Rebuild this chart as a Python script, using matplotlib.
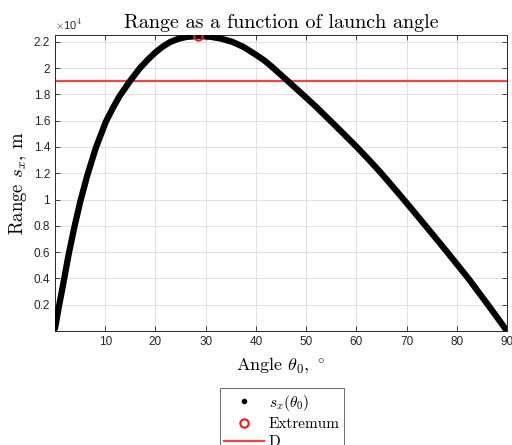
import matplotlib.pyplot as plt
from matplotlib.lines import Line2D

plt.rcParams["mathtext.fontset"] = "cm"

# Дані
theta_deg = [0, 0.8, 1.7, 2.7, 3.8, 5.0, 6.4, 8.1, 10.1, 11.5, 12.9, 14.0, 15.0,
             16.9, 18.5, 20.0, 21.5, 23.0, 24.5, 26.0, 28.5, 31.0, 33.0, 35.3,
             37.5, 40.0, 41.8, 43.5, 46.4, 49.3, 52.0, 54.6, 57.2, 59.9, 62.4,
             64.8, 67.1, 69.4, 73.8, 78.1, 82.3, 86.2, 90]
range_m = [200, 1900, 3700, 5800, 7800, 9800, 11800, 13900, 15900, 16950, 17900,
           18500, 19050, 20000, 20650, 21200, 21650, 22000, 22220, 22360, 22450,
           22380, 22250, 22000, 21620, 21020, 20550, 20000, 19000, 18000, 17050,
           16080, 15100, 14070, 13070, 12070, 11050, 10020, 8000, 6000, 4000,
           2000, 0]
theta_ext = 28.5
range_ext = 22450
D = 19000

yticks = [0.2, 0.4, 0.6, 0.8, 1.0, 1.2, 1.4, 1.6, 1.8, 2.0, 2.2]
xticks = [10, 20, 30, 40, 50, 60, 70, 80, 90]

fig = plt.figure(figsize=(5.12, 4.45), dpi=100)
ax = fig.add_axes([55 / 512, 1 - 331 / 445, 452 / 512, 296 / 445])

ax.plot(theta_deg, [r / 1e4 for r in range_m], color="k", lw=4.5,
        solid_capstyle="round", solid_joinstyle="round", zorder=3)
ax.plot(theta_ext, range_ext / 1e4, "o", mfc="none", mec="#ee1c1c", mew=1.5,
        ms=6, zorder=4)
ax.axhline(D / 1e4, color="#f04545", lw=1.6, zorder=2)

ax.set_xlim(0, 90)
ax.set_ylim(0, 2.252)
ax.set_xticks(xticks)
ax.set_yticks(yticks)
ax.set_xticklabels([str(t) for t in xticks], family="Liberation Sans", fontsize=8.5)
ax.set_yticklabels([f"{t:g}" for t in yticks], family="Liberation Sans", fontsize=8.5)
ax.tick_params(direction="in", top=True, right=True, length=3.5, width=0.6,
               colors="#262626", labelcolor="#262626")
for s in ax.spines.values():
    s.set_color("#262626")
    s.set_linewidth(0.7)
ax.grid(True, color="#dcdcdc", lw=0.6)
ax.set_axisbelow(True)

ax.set_title("Range as a function of launch angle", family="cmr10", fontsize=14.5, pad=5)
ax.set_xlabel(r"Angle $\theta_0$, $^\circ$", family="cmr10", fontsize=13, labelpad=5)
ax.set_ylabel(r"Range $s_x$, m", family="cmr10", fontsize=13.5, labelpad=3)
ax.text(0.0, 1.01, r"$\times$10$^4$", transform=ax.transAxes, fontsize=8,
        family="Liberation Sans", color="#262626", va="bottom", ha="left")

handles = [
    Line2D([], [], ls="none", marker=".", color="k", ms=6),
    Line2D([], [], ls="none", marker="o", mfc="none", mec="#ee1c1c", mew=1.5, ms=6),
    Line2D([], [], color="#f04545", lw=1.6),
]
labels = [r"$s_x(\theta_0)$", "Extremum", "D"]
leg = fig.legend(handles, labels, loc="upper center", bbox_to_anchor=(282 / 512, 1 - 388 / 445),
                 prop={"family": "cmr10", "size": 11}, frameon=True, fancybox=False,
                 edgecolor="#262626", handlelength=2.6, borderpad=0.3, labelspacing=0.3,
                 handletextpad=0.3, borderaxespad=0)
leg.get_frame().set_linewidth(0.6)

fig.savefig("out.png", dpi=100)
